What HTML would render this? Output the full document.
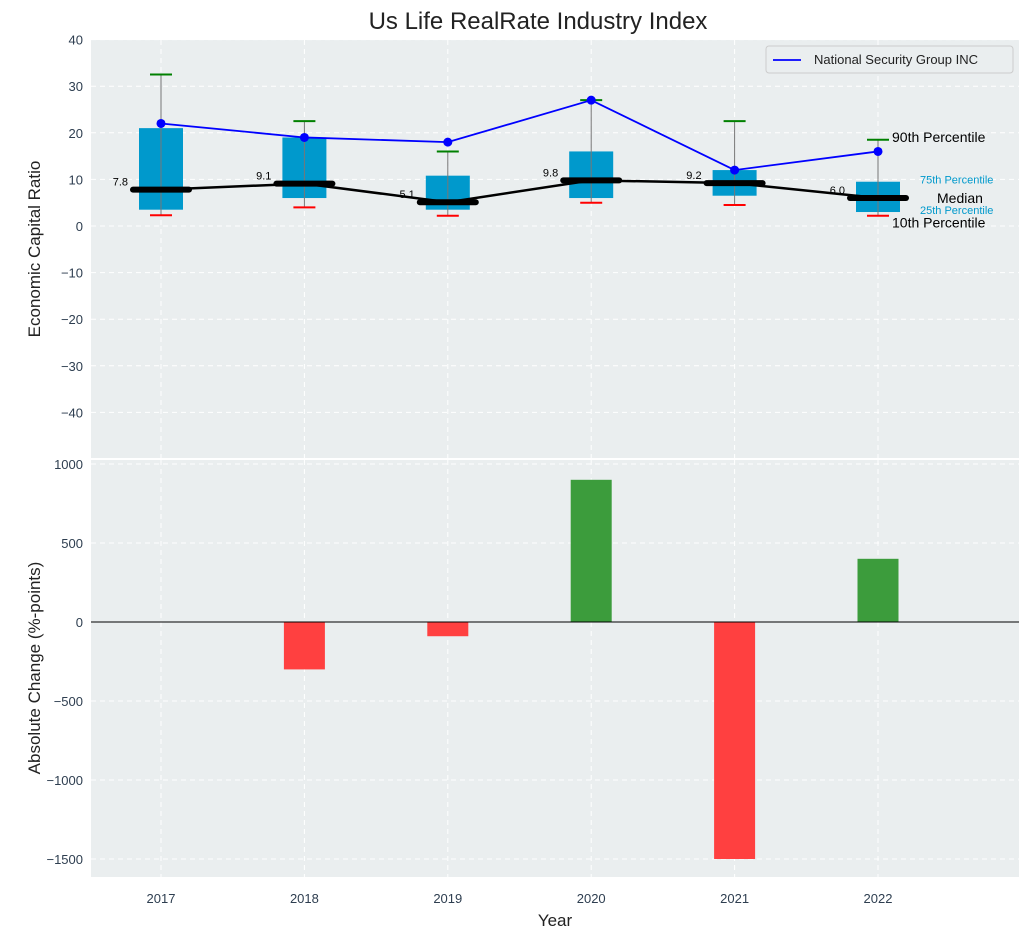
<!DOCTYPE html>
<html><head><meta charset="utf-8"><style>
body{margin:0;background:#fff;font-family:"Liberation Sans",sans-serif}
svg text{font-family:"Liberation Sans",sans-serif}
</style></head><body>
<svg id="c" width="1029" height="940" xmlns="http://www.w3.org/2000/svg"></svg>
<script>
const years=[2017,2018,2019,2020,2021,2022];
const p10=[2.3,4,2.2,5,4.5,2.2];
const p25=[3.5,6,3.5,6,6.5,3];
const medians=[7.8,9.1,5.1,9.8,9.2,6.0];
const p75=[21,19,10.8,16,12,9.5];
const p90=[32.5,22.5,16,27,22.5,18.5];
const company=[22,19,18,27,12,16];
const changes=[0,-300,-90,900,-1500,400];
const topTicks=[40,30,20,10,0,-10,-20,-30,-40];
const botTicks=[1000,500,0,-500,-1000,-1500];

const S='http://www.w3.org/2000/svg',svg=document.getElementById('c');
function el(t,a,p){const e=document.createElementNS(S,t);for(const k in a)e.setAttribute(k,a[k]);(p||svg).appendChild(e);return e;}
const L=91,R=1019;
const X=v=>161+(v-2017)*143.4;
const Yt=v=>226-v*4.66;
const Yb=v=>622-v*0.158;
// backgrounds
let b1=el('rect',{x:L,y:40,width:R-L,height:418,fill:'#eaeeef'});

let b2=el('rect',{x:L,y:460,width:R-L,height:417,fill:'#eaeeef'});

// grids
topTicks.forEach(t=>{const y=Yt(t);el('line',{x1:L,x2:R,y1:y,y2:y,stroke:'#fff','stroke-dasharray':'5,4'});
 const tx=el('text',{x:83,y:y+5,'text-anchor':'end','font-size':13,fill:'#2e3e50'});tx.textContent=t.toString().replace('-','−');
 });
botTicks.forEach(t=>{const y=Yb(t);el('line',{x1:L,x2:R,y1:y,y2:y,stroke:'#fff','stroke-dasharray':'5,4'});
 const tx=el('text',{x:83,y:y+5,'text-anchor':'end','font-size':13,fill:'#2e3e50'});tx.textContent=t.toString().replace('-','−');
 });
years.forEach(yr=>{const x=X(yr);
 el('line',{x1:x,x2:x,y1:40,y2:458,stroke:'#fff','stroke-dasharray':'5,4'});
 el('line',{x1:x,x2:x,y1:460,y2:877,stroke:'#fff','stroke-dasharray':'5,4'});
 const tx=el('text',{x:x,y:903,'text-anchor':'middle','font-size':13,fill:'#2e3e50'});tx.textContent=yr;
 });
// boxes
years.forEach((yr,i)=>{const x=X(yr);
 const r=el('rect',{x:x-22,y:Yt(p75[i]),width:44,height:Yt(p25[i])-Yt(p75[i]),fill:'#0099cc'});
 
 const w=el('line',{x1:x,x2:x,y1:Yt(p90[i]),y2:Yt(p10[i]),stroke:'#777','stroke-width':1});
 
 const g=el('line',{x1:x-11,x2:x+11,y1:Yt(p90[i]),y2:Yt(p90[i]),stroke:'green','stroke-width':2});
 
 const rd=el('line',{x1:x-11,x2:x+11,y1:Yt(p10[i]),y2:Yt(p10[i]),stroke:'red','stroke-width':2});
 
});
// median line
let ml=el('polyline',{points:years.map((y,i)=>X(y)+','+Yt(medians[i])).join(' '),fill:'none',stroke:'#000','stroke-width':2.5});

years.forEach((yr,i)=>{const x=X(yr);
 const m=el('line',{x1:x-28,x2:x+28,y1:Yt(medians[i]),y2:Yt(medians[i]),stroke:'#000','stroke-width':6,'stroke-linecap':'round'});
 
 const t=el('text',{x:x-33,y:Yt(medians[i])-4,'text-anchor':'end','font-size':11,fill:'#000'});t.textContent=medians[i].toFixed(1);
 });
// company
let cl=el('polyline',{points:years.map((y,i)=>X(y)+','+Yt(company[i])).join(' '),fill:'none',stroke:'#0000ff','stroke-width':1.8});

years.forEach((yr,i)=>{const c=el('circle',{cx:X(yr),cy:Yt(company[i]),r:4.5,fill:'#0000ff'});
 });
// annotations
const lx=X(2022);
[['90th Percentile',lx+14,Yt(p90[5])+2,14,'#000'],['10th Percentile',lx+14,Yt(p10[5])+12,14,'#000'],
 ['Median',lx+59,Yt(medians[5])+5,14,'#000'],['75th Percentile',lx+42,Yt(p75[5])+2,11,'#0099cc'],['25th Percentile',lx+42,Yt(p25[5])+2,11,'#0099cc']]
.forEach(a=>{const t=el('text',{x:a[1],y:a[2],'font-size':a[3],fill:a[4]});t.textContent=a[0];
 });
// bars
years.forEach((yr,i)=>{const v=changes[i];if(!v)return;const x=X(yr);
 const r=el('rect',{x:x-20.5,y:Math.min(Yb(0),Yb(v)),width:41,height:Math.abs(Yb(v)-Yb(0)),fill:v>0?'#3c9c3c':'#ff4040'});
 });
el('line',{x1:L,x2:R,y1:Yb(0),y2:Yb(0),stroke:'#000','stroke-width':1});
// legend
const lg=el('g',{});
el('rect',{x:766,y:46,width:247,height:27,rx:3,fill:'#eaeeef',stroke:'#ccc'},lg);
el('line',{x1:773,x2:801,y1:60,y2:60,stroke:'#0000ff','stroke-width':1.8},lg);
const lt=el('text',{x:814,y:64,'font-size':13,fill:'#222'},lg);lt.textContent='National Security Group INC';
// titles
const tt=el('text',{x:538,y:29,'text-anchor':'middle','font-size':24,fill:'#222'});tt.textContent='Us Life RealRate Industry Index';

const yt=el('text',{x:0,y:0,'text-anchor':'middle','font-size':17,fill:'#222',transform:'translate(40,249) rotate(-90)'});yt.textContent='Economic Capital Ratio';

const yb=el('text',{x:0,y:0,'text-anchor':'middle','font-size':17,fill:'#222',transform:'translate(40,668) rotate(-90)'});yb.textContent='Absolute Change (%-points)';

const xt=el('text',{x:555,y:926,'text-anchor':'middle','font-size':17,fill:'#222'});xt.textContent='Year';

</script>
</body></html>
